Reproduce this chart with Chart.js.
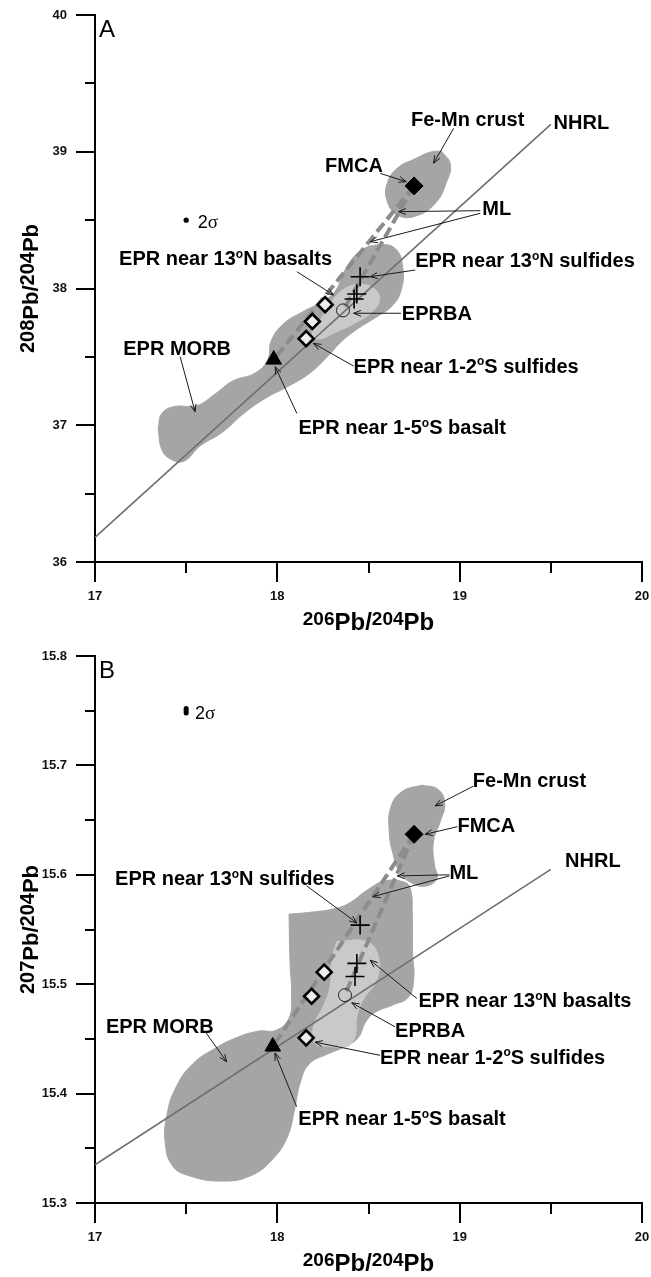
<!DOCTYPE html>
<html>
<head>
<meta charset="utf-8">
<script src="https://cdn.jsdelivr.net/npm/chart.js@4.4.1/dist/chart.umd.min.js"></script>
<style>
  html, body { margin: 0; padding: 0; background: #fff; }
  canvas { display: block; }
</style>
</head>
<body>
<canvas id="panelA" width="651" height="640"></canvas>
<canvas id="panelB" width="651" height="637"></canvas>
<script>
// Pb isotope plots, panel A (208/204) and panel B (207/204) against 206Pb/204Pb

// ---- panel A data ----
const crustA = [[18.899,39.006],[18.949,38.908],[18.929,38.782],[18.869,38.627],[18.758,38.529],[18.658,38.538],
  [18.602,38.641],[18.602,38.768],[18.658,38.880],[18.758,38.950],[18.838,38.997]];
const morbA = [[17.346,36.975],[17.367,37.087],[17.437,37.137],[17.557,37.143],[17.657,37.227],[17.757,37.325],
  [17.877,37.381],[17.947,37.479],[17.967,37.619],[18.037,37.745],[18.138,37.829],[18.238,37.899],[18.318,37.983],
  [18.378,38.151],[18.458,38.277],[18.558,38.319],[18.648,38.291],[18.688,38.151],[18.678,37.983],[18.628,37.871],
  [18.538,37.787],[18.438,37.703],[18.358,37.619],[18.278,37.507],[18.178,37.381],[18.057,37.283],[17.937,37.199],
  [17.817,37.087],[17.697,36.947],[17.577,36.849],[17.487,36.737],[17.417,36.751],[17.367,36.821]];
const innerA = [[18.31,37.93],[18.37,38.00],[18.45,38.03],[18.53,38.00],[18.56,37.92],[18.52,37.83],[18.43,37.75],
  [18.32,37.68],[18.22,37.63],[18.19,37.68],[18.24,37.78]];
const nhrlA = [[17, 36.18], [19.5, 39.2]];
const mlLeftA = [[18.75, 38.75], [17.98, 37.48]];
const mlRightA = [[18.75, 38.75], [18.37, 37.86]];
const fmcaA = [[18.75, 38.75]];
const basaltA = [[17.98, 37.48]];
const diamondsA = [[18.158, 37.633], [18.192, 37.759], [18.262, 37.882]];
const crossesA = [[18.454, 38.086], [18.436, 37.960], [18.421, 37.923]];
const eprbaA = [[18.36, 37.84]];
const sigmaA = [[17.5, 38.5]];

// ---- panel B data ----
const crustB = [[18.792,15.682],[18.882,15.678],[18.918,15.665],[18.892,15.648],[18.856,15.630],[18.862,15.609],
  [18.876,15.597],[18.822,15.590],[18.743,15.592],[18.673,15.602],[18.633,15.620],[18.613,15.641],[18.623,15.662],
  [18.683,15.676]];
const morbB = [[18.064,15.564],[18.194,15.566],[18.313,15.569],[18.393,15.574],[18.493,15.586],[18.583,15.594],
  [18.683,15.594],[18.728,15.588],[18.740,15.563],[18.742,15.528],[18.748,15.504],[18.718,15.488],[18.633,15.481],
  [18.533,15.474],[18.483,15.465],[18.443,15.451],[18.373,15.443],[18.273,15.436],[18.174,15.427],[18.124,15.409],
  [18.094,15.385],[18.054,15.360],[17.974,15.340],[17.854,15.325],[17.695,15.320],[17.515,15.325],[17.425,15.334],
  [17.385,15.355],[17.395,15.381],[17.445,15.406],[17.535,15.427],[17.655,15.441],[17.774,15.451],[17.894,15.457],
  [17.994,15.458],[18.064,15.469],[18.078,15.490],[18.070,15.518]];
const innerB = [[18.326,15.539],[18.490,15.539],[18.554,15.525],[18.545,15.504],[18.472,15.486],[18.436,15.470],
  [18.426,15.452],[18.381,15.443],[18.289,15.443],[18.207,15.446],[18.198,15.461],[18.252,15.480],[18.289,15.498],
  [18.298,15.522]];
const nhrlB = [[17, 15.335], [19.5, 15.605]];
const mlLeftB = [[18.75, 15.637], [17.975, 15.443]];
const mlRightB = [[18.75, 15.637], [18.37, 15.49]];
const fmcaB = [[18.75, 15.637]];
const basaltB = [[17.975, 15.443]];
const diamondsB = [[18.158, 15.451], [18.188, 15.489], [18.257, 15.511]];
const crossesB = [[18.454, 15.554], [18.436, 15.519], [18.426, 15.507]];
const eprbaB = [[18.371, 15.490]];
const sigmaB = [[17.5, 15.748], [17.5, 15.752]];

// ---- labels with arrows (data coordinates; text x is the left edge, y the middle) ----
const notesA = [
  { t: 'Fe-Mn crust', x: 18.733, y: 39.244, arrows: [[18.967, 39.171, 18.857, 38.916]] },
  { t: 'NHRL', x: 19.515, y: 39.22, arrows: [] },
  { t: 'FMCA', x: 18.262, y: 38.903, arrows: [[18.564, 38.842, 18.707, 38.781]] },
  { t: 'ML', x: 19.124, y: 38.589, arrows: [[19.113, 38.569, 18.665, 38.562], [19.113, 38.550, 18.509, 38.342]] },
  { t: 'EPR near 13^oN sulfides', x: 18.756, y: 38.208, arrows: [[18.756, 38.135, 18.509, 38.086]] },
  { t: 'EPR near 13^oN basalts', x: 17.132, y: 38.221, arrows: [[18.107, 38.123, 18.308, 37.953]] },
  { t: 'EPRBA', x: 18.683, y: 37.819, arrows: [[18.678, 37.819, 18.418, 37.819]] },
  { t: 'EPR near 1-2^oS sulfides', x: 18.418, y: 37.437, arrows: [[18.418, 37.433, 18.198, 37.599]] },
  { t: 'EPR near 1-5^oS basalt', x: 18.116, y: 36.989, arrows: [[18.107, 37.087, 17.988, 37.428]] },
  { t: 'EPR MORB', x: 17.155, y: 37.563, arrows: [[17.467, 37.501, 17.549, 37.099]] }
];
const notesB = [
  { t: 'Fe-Mn crust', x: 19.072, y: 15.687, arrows: [[19.075, 15.681, 18.865, 15.663]] },
  { t: 'FMCA', x: 18.988, y: 15.646, arrows: [[18.988, 15.644, 18.810, 15.637]] },
  { t: 'ML', x: 18.944, y: 15.603, arrows: [[18.944, 15.600, 18.658, 15.599], [18.944, 15.599, 18.523, 15.580]] },
  { t: 'NHRL', x: 19.578, y: 15.614, arrows: [] },
  { t: 'EPR near 13^oN sulfides', x: 17.110, y: 15.597, arrows: [[18.16, 15.590, 18.436, 15.556]] },
  { t: 'EPR near 13^oN basalts', x: 18.774, y: 15.486, arrows: [[18.765, 15.487, 18.509, 15.522]] },
  { t: 'EPRBA', x: 18.646, y: 15.458, arrows: [[18.646, 15.461, 18.408, 15.483]] },
  { t: 'EPR near 1-2^oS sulfides', x: 18.563, y: 15.434, arrows: [[18.563, 15.435, 18.207, 15.447]] },
  { t: 'EPR near 1-5^oS basalt', x: 18.115, y: 15.378, arrows: [[18.106, 15.388, 17.987, 15.437]] },
  { t: 'EPR MORB', x: 17.060, y: 15.462, arrows: [[17.603, 15.457, 17.722, 15.429]] }
];

const FONT = "'Liberation Sans', Arial, sans-serif";
const DARK = '#a5a5a5', LIGHT = '#c9c9c9';

const pts = arr => arr.map(([x, y]) => ({ x, y }));

function blob(arr, color, order) {
  return { data: pts([...arr, arr[0]]), showLine: true, fill: 'shape', backgroundColor: color,
    borderColor: color, borderWidth: 1, pointRadius: 0, tension: 0.45, order };
}
function line(arr, opts) {
  return Object.assign({ data: pts(arr), showLine: true, pointRadius: 0, fill: false }, opts);
}
function marker(arr, opts) {
  return Object.assign({ data: pts(arr), showLine: false, order: 1 }, opts);
}

// text with '^x' marking a small raised letter (the degree "o")
function drawRich(ctx, text, x, y, size) {
  const base = y + size * 0.36;
  let cx = x;
  for (let i = 0; i < text.length; i++) {
    let ch = text[i], sup = false;
    if (ch === '^') { sup = true; ch = text[++i]; }
    ctx.font = `bold ${sup ? Math.round(size * 0.62) : size}px ${FONT}`;
    ctx.fillText(ch, cx, sup ? base - size * 0.36 : base);
    cx += ctx.measureText(ch).width;
  }
}

function drawArrow(ctx, x1, y1, x2, y2) {
  ctx.beginPath(); ctx.moveTo(x1, y1); ctx.lineTo(x2, y2); ctx.stroke();
  const a = Math.atan2(y2 - y1, x2 - x1), L = 8, w = 0.38;
  ctx.beginPath();
  ctx.moveTo(x2 - L * Math.cos(a - w), y2 - L * Math.sin(a - w));
  ctx.lineTo(x2, y2);
  ctx.lineTo(x2 - L * Math.cos(a + w), y2 - L * Math.sin(a + w));
  ctx.stroke();
}

// "206Pb/204Pb" style title, centred on the origin, baseline at 0
function isoTitle(ctx, m1, m2, big, small) {
  const parts = [[m1, true], ['Pb', false], ['/', false], [m2, true], ['Pb', false]];
  let w = 0;
  parts.forEach(([s, sup]) => { ctx.font = `bold ${sup ? small : big}px ${FONT}`; w += ctx.measureText(s).width; });
  let cx = -w / 2;
  parts.forEach(([s, sup]) => {
    ctx.font = `bold ${sup ? small : big}px ${FONT}`;
    ctx.fillText(s, cx, sup ? -big * 0.2 : 0);
    cx += ctx.measureText(s).width;
  });
}

const decor = {
  id: 'decor',
  afterDatasetsDraw(chart) {
    const o = chart.options.plugins.decor;
    const { ctx, chartArea: a, scales: { x, y } } = chart;
    ctx.save();
    ctx.fillStyle = '#000';
    ctx.textAlign = 'left';
    ctx.textBaseline = 'alphabetic';
    ctx.strokeStyle = '#1a1a1a';
    ctx.lineWidth = 1;
    o.notes.forEach(n => {
      drawRich(ctx, n.t, x.getPixelForValue(n.x), y.getPixelForValue(n.y), 20);
      n.arrows.forEach(([x1, y1, x2, y2]) =>
        drawArrow(ctx, x.getPixelForValue(x1), y.getPixelForValue(y1), x.getPixelForValue(x2), y.getPixelForValue(y2)));
    });
    // 2 sigma label
    const sx = x.getPixelForValue(o.sigma[0]), sy = y.getPixelForValue(o.sigma[1]) + 6;
    ctx.font = `18px ${FONT}`;
    ctx.fillText('2', sx, sy);
    const w2 = ctx.measureText('2').width;
    ctx.font = `19px 'Liberation Serif', serif`;
    ctx.fillText('\u03c3', sx + w2, sy);
    // panel letter
    ctx.font = `24px ${FONT}`;
    ctx.fillText(o.letter, a.left + 4, a.top + 22);

    // ticks: long on labelled values, short between
    ctx.strokeStyle = '#000';
    ctx.lineWidth = 2;
    y.ticks.forEach(t => {
      const p = Math.round(y.getPixelForValue(t.value));
      const len = t.label ? 19 : 10;
      ctx.beginPath(); ctx.moveTo(a.left - len, p); ctx.lineTo(a.left, p); ctx.stroke();
    });
    x.ticks.forEach(t => {
      const p = Math.round(x.getPixelForValue(t.value));
      const len = t.label ? 20 : 11;
      ctx.beginPath(); ctx.moveTo(p, a.bottom); ctx.lineTo(p, a.bottom + len); ctx.stroke();
    });

    // axis titles
    ctx.save();
    ctx.translate((a.left + a.right) / 2, a.bottom + 68);
    isoTitle(ctx, '206', '204', 24, 19);
    ctx.restore();
    ctx.save();
    ctx.translate(38, (a.top + a.bottom) / 2);
    ctx.rotate(-Math.PI / 2);
    isoTitle(ctx, o.yMass, '204', 22, 20);
    ctx.restore();
    ctx.restore();
  }
};

function makePanel(id, cfg) {
  const tickFont = { family: FONT, size: 13, weight: 'bold' };
  // label offsets come from invisible tick marks; ticks.padding would also pad the chart edges
  const hidden = 'rgba(0,0,0,0)';
  return new Chart(document.getElementById(id), {
    type: 'scatter',
    data: {
      datasets: [
        blob(cfg.crust, DARK, 20),
        blob(cfg.morb, DARK, 20),
        blob(cfg.inner, LIGHT, 19),
        line(cfg.nhrl, { borderColor: '#6f6f6f', borderWidth: 1.6, order: 18 }),
        line(cfg.mlLeft, { borderColor: '#8c8c8c', borderWidth: 4, borderDash: [11, 5], order: 17 }),
        line(cfg.mlRight, { borderColor: '#8c8c8c', borderWidth: 4, borderDash: [11, 5], order: 17 }),
        marker(cfg.fmca, { pointStyle: 'rectRot', pointRadius: 9, backgroundColor: '#000', borderColor: '#000', borderWidth: 1 }),
        marker(cfg.basalt, { pointStyle: 'triangle', pointRadius: 9, backgroundColor: '#000', borderColor: '#000', borderWidth: 1 }),
        marker(cfg.diamonds, { pointStyle: 'rectRot', pointRadius: 7.5, backgroundColor: '#eeeeee', borderColor: '#000', borderWidth: 2.6 }),
        marker(cfg.crosses, { pointStyle: 'cross', pointRadius: 9.5, borderColor: '#000', borderWidth: 1.6 }),
        marker(cfg.eprba, { pointStyle: 'circle', pointRadius: 6.5, backgroundColor: 'rgba(0,0,0,0)', borderColor: '#222', borderWidth: 1 }),
        cfg.sigmaLine
          ? line(cfg.sigma, { borderColor: '#000', borderWidth: 5, borderCapStyle: 'round', order: 1 })
          : marker(cfg.sigma, { pointStyle: 'circle', pointRadius: 2.6, backgroundColor: '#000', borderColor: '#000', borderWidth: 0 })
      ]
    },
    options: {
      responsive: false,
      animation: false,
      devicePixelRatio: 1,
      layout: { autoPadding: false, padding: { top: cfg.padTop, right: 9, left: 0, bottom: 0 } },
      plugins: {
        legend: { display: false },
        tooltip: { enabled: false },
        decor: { notes: cfg.notes, letter: cfg.letter, yMass: cfg.yMass, sigma: cfg.sigmaLabel }
      },
      scales: {
        x: {
          type: 'linear', min: 17, max: 20,
          grid: { display: true, drawOnChartArea: false, drawTicks: true, tickLength: 27, tickColor: hidden },
          border: { display: true, color: '#000', width: 2 },
          ticks: { stepSize: 0.5, autoSkip: false, padding: 0, color: '#111', font: tickFont,
            callback: v => Number.isInteger(v) ? String(v) : '' },
          afterFit: s => { s.height = cfg.xHeight; }
        },
        y: {
          type: 'linear', min: cfg.yMin, max: cfg.yMax,
          grid: { display: true, drawOnChartArea: false, drawTicks: true, tickLength: 28, tickColor: hidden },
          border: { display: true, color: '#000', width: 2 },
          ticks: { stepSize: cfg.yStep, autoSkip: false, maxTicksLimit: 30, padding: 0, color: '#111', font: tickFont,
            callback: v => {
              const k = v / cfg.yLabelStep;
              return Math.abs(k - Math.round(k)) < 1e-6 ? v.toFixed(cfg.yDigits) : '';
            } },
          afterFit: s => { s.width = 95; }
        }
      }
    },
    plugins: [decor]
  });
}

makePanel('panelA', {
  crust: crustA, morb: morbA, inner: innerA, nhrl: nhrlA, mlLeft: mlLeftA, mlRight: mlRightA,
  fmca: fmcaA, basalt: basaltA, diamonds: diamondsA, crosses: crossesA, eprba: eprbaA,
  sigma: sigmaA, sigmaLine: false, sigmaLabel: [17.564, 38.489],
  notes: notesA, letter: 'A', yMass: '208',
  yMin: 36, yMax: 40, yStep: 0.5, yLabelStep: 1, yDigits: 0,
  padTop: 15, xHeight: 78
});

makePanel('panelB', {
  crust: crustB, morb: morbB, inner: innerB, nhrl: nhrlB, mlLeft: mlLeftB, mlRight: mlRightB,
  fmca: fmcaB, basalt: basaltB, diamonds: diamondsB, crosses: crossesB, eprba: eprbaB,
  sigma: sigmaB, sigmaLine: true, sigmaLabel: [17.549, 15.748],
  notes: notesB, letter: 'B', yMass: '207',
  yMin: 15.3, yMax: 15.8, yStep: 0.05, yLabelStep: 0.1, yDigits: 1,
  padTop: 16, xHeight: 74
});
</script>
</body>
</html>
